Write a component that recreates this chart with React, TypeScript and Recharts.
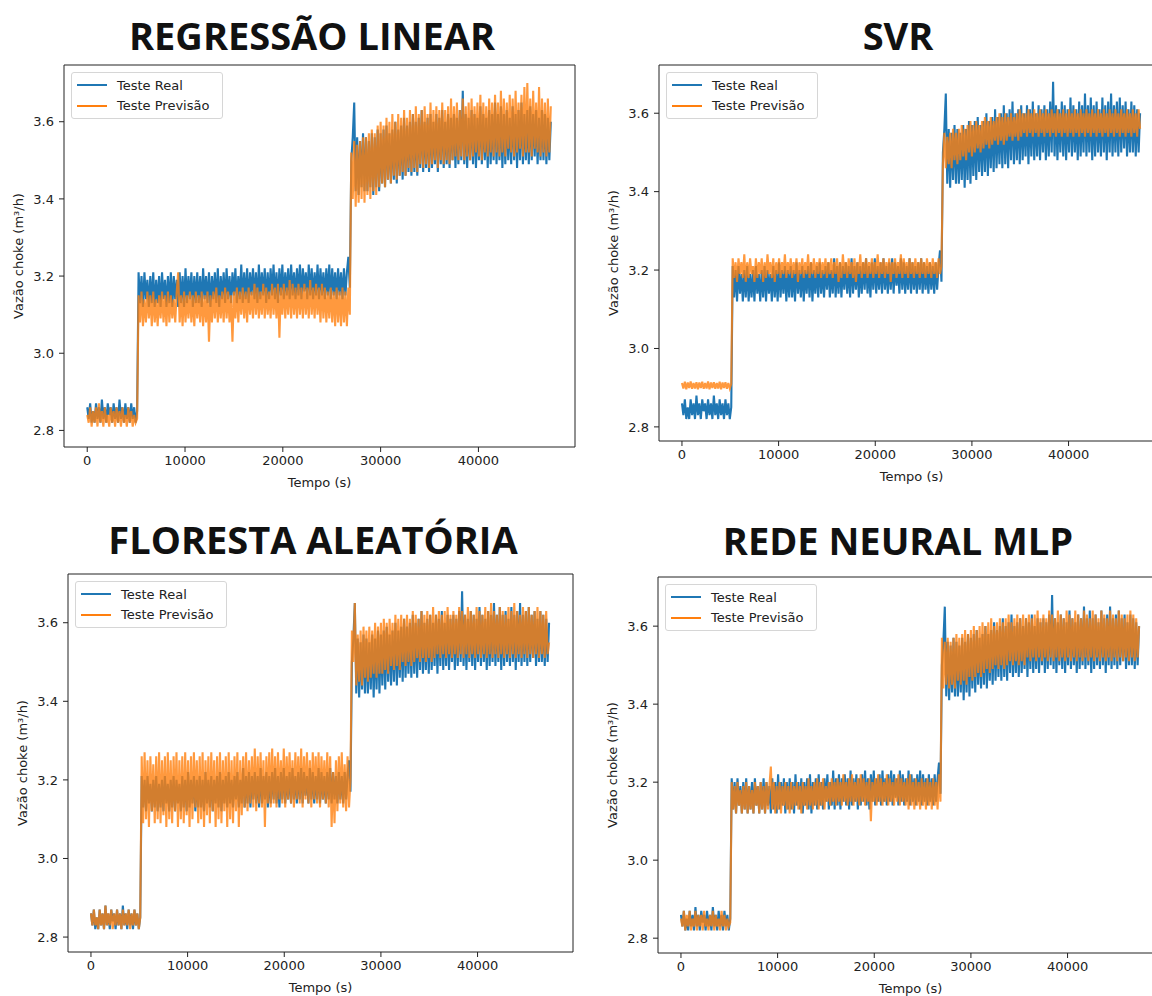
import React from "react";
import { LineChart, Line, XAxis, YAxis, ReferenceArea } from "recharts";

// sampling step of the test series (s)
const STEP_S = 150;

const xTicks = [0, 10000, 20000, 30000, 40000];
const yTicks = [2.8, 3.0, 3.2, 3.4, 3.6];
const titles = ["REGRESSÃO LINEAR", "SVR", "FLORESTA ALEATÓRIA", "REDE NEURAL MLP"];
const seriesNames = ["Teste Real", "Teste Previsão"];

// Teste Real (same in all four panels): A = 0..5100 s, B = 5250..26850 s, C = 27000..47400 s
const realA = [
  2.86, 2.83, 2.87, 2.82, 2.85, 2.82, 2.87, 2.83, 2.86, 2.82,
  2.88, 2.83, 2.86, 2.82, 2.87, 2.84, 2.86, 2.82, 2.87, 2.83,
  2.86, 2.82, 2.88, 2.83, 2.86, 2.82, 2.87, 2.83, 2.86, 2.82,
  2.87, 2.83, 2.86, 2.82, 2.85,
];
const realB = [
  3.21, 3.13, 3.2, 3.12, 3.21, 3.14, 3.19, 3.12, 3.2, 3.13,
  3.21, 3.12, 3.19, 3.13, 3.2, 3.12, 3.21, 3.14, 3.19, 3.12,
  3.2, 3.13, 3.21, 3.12, 3.2, 3.14, 3.19, 3.12, 3.21, 3.13,
  3.2, 3.12, 3.22, 3.13, 3.2, 3.14, 3.21, 3.12, 3.2, 3.13,
  3.21, 3.13, 3.2, 3.12, 3.22, 3.14, 3.2, 3.13, 3.21, 3.12,
  3.2, 3.14, 3.21, 3.13, 3.22, 3.12, 3.2, 3.14, 3.21, 3.13,
  3.22, 3.14, 3.2, 3.13, 3.21, 3.15, 3.22, 3.13, 3.2, 3.14,
  3.23, 3.13, 3.21, 3.14, 3.22, 3.13, 3.21, 3.15, 3.22, 3.14,
  3.21, 3.13, 3.23, 3.14, 3.21, 3.15, 3.22, 3.13, 3.21, 3.14,
  3.22, 3.15, 3.23, 3.14, 3.21, 3.13, 3.22, 3.15, 3.23, 3.14,
  3.21, 3.15, 3.22, 3.14, 3.23, 3.15, 3.21, 3.14, 3.22, 3.15,
  3.23, 3.14, 3.22, 3.16, 3.21, 3.14, 3.23, 3.15, 3.22, 3.14,
  3.21, 3.15, 3.23, 3.14, 3.22, 3.15, 3.21, 3.14, 3.22, 3.15,
  3.23, 3.14, 3.22, 3.15, 3.21, 3.14, 3.22, 3.15, 3.21, 3.14,
  3.22, 3.15, 3.21, 3.25, 3.17,
];
const realC = [
  3.5, 3.56, 3.65, 3.42, 3.56, 3.41, 3.55, 3.43, 3.57, 3.42,
  3.56, 3.42, 3.55, 3.43, 3.57, 3.41, 3.56, 3.43, 3.58, 3.42,
  3.57, 3.44, 3.58, 3.43, 3.59, 3.45, 3.57, 3.44, 3.58, 3.45,
  3.6, 3.44, 3.58, 3.46, 3.59, 3.45, 3.61, 3.46, 3.59, 3.47,
  3.6, 3.46, 3.62, 3.47, 3.6, 3.46, 3.61, 3.48, 3.63, 3.47,
  3.6, 3.48, 3.61, 3.47, 3.62, 3.48, 3.6, 3.49, 3.62, 3.47,
  3.61, 3.49, 3.63, 3.48, 3.6, 3.49, 3.62, 3.48, 3.61, 3.5,
  3.62, 3.48, 3.61, 3.49, 3.63, 3.5, 3.68, 3.49, 3.62, 3.48,
  3.61, 3.5, 3.63, 3.49, 3.62, 3.48, 3.61, 3.5, 3.64, 3.49,
  3.62, 3.5, 3.61, 3.48, 3.63, 3.49, 3.62, 3.5, 3.65, 3.49,
  3.62, 3.5, 3.64, 3.48, 3.62, 3.49, 3.63, 3.5, 3.61, 3.49,
  3.64, 3.5, 3.62, 3.48, 3.63, 3.5, 3.65, 3.49, 3.62, 3.5,
  3.63, 3.49, 3.64, 3.5, 3.62, 3.51, 3.63, 3.49, 3.61, 3.5,
  3.63, 3.5, 3.62, 3.49, 3.61, 3.5, 3.6,
];

// Teste Previsão - Regressão Linear
const lrA = [
  2.84, 2.82, 2.86, 2.81, 2.85, 2.82, 2.86, 2.81, 2.87, 2.82,
  2.85, 2.81, 2.86, 2.82, 2.84, 2.81, 2.86, 2.82, 2.85, 2.81,
  2.86, 2.82, 2.85, 2.81, 2.86, 2.82, 2.84, 2.81, 2.86, 2.82,
  2.85, 2.81, 2.84, 2.82, 2.83,
];
const lrB = [
  3.15, 3.08, 3.16, 3.07, 3.14, 3.08, 3.16, 3.09, 3.15, 3.07,
  3.16, 3.08, 3.14, 3.07, 3.15, 3.09, 3.16, 3.08, 3.15, 3.07,
  3.16, 3.08, 3.15, 3.09, 3.14, 3.08, 3.16, 3.21, 3.08, 3.15,
  3.07, 3.16, 3.08, 3.15, 3.09, 3.16, 3.08, 3.15, 3.07, 3.16,
  3.09, 3.15, 3.08, 3.16, 3.07, 3.15, 3.08, 3.16, 3.03, 3.15,
  3.08, 3.16, 3.09, 3.17, 3.08, 3.15, 3.09, 3.16, 3.08, 3.17,
  3.09, 3.16, 3.08, 3.15, 3.03, 3.16, 3.09, 3.17, 3.08, 3.16,
  3.1, 3.17, 3.09, 3.16, 3.08, 3.17, 3.1, 3.16, 3.09, 3.18,
  3.1, 3.17, 3.09, 3.16, 3.1, 3.18, 3.09, 3.17, 3.1, 3.16,
  3.09, 3.18, 3.1, 3.17, 3.09, 3.18, 3.04, 3.17, 3.1, 3.18,
  3.09, 3.17, 3.1, 3.19, 3.09, 3.18, 3.1, 3.17, 3.09, 3.18,
  3.1, 3.17, 3.09, 3.18, 3.1, 3.17, 3.09, 3.19, 3.1, 3.17,
  3.09, 3.18, 3.1, 3.17, 3.08, 3.18, 3.09, 3.17, 3.08, 3.16,
  3.09, 3.17, 3.08, 3.16, 3.07, 3.17, 3.08, 3.16, 3.07, 3.17,
  3.08, 3.16, 3.07, 3.17, 3.1,
];
const lrC = [
  3.52, 3.4, 3.55, 3.38, 3.54, 3.39, 3.55, 3.4, 3.56, 3.39,
  3.56, 3.41, 3.57, 3.4, 3.58, 3.42, 3.57, 3.41, 3.59, 3.43,
  3.6, 3.44, 3.59, 3.43, 3.61, 3.45, 3.6, 3.44, 3.62, 3.46,
  3.6, 3.45, 3.62, 3.46, 3.61, 3.47, 3.63, 3.46, 3.61, 3.48,
  3.63, 3.47, 3.62, 3.48, 3.64, 3.47, 3.62, 3.49, 3.63, 3.48,
  3.64, 3.49, 3.62, 3.48, 3.65, 3.49, 3.63, 3.5, 3.64, 3.48,
  3.63, 3.5, 3.65, 3.49, 3.63, 3.5, 3.64, 3.49, 3.66, 3.5,
  3.64, 3.51, 3.65, 3.5, 3.63, 3.51, 3.66, 3.5, 3.64, 3.51,
  3.65, 3.5, 3.66, 3.51, 3.64, 3.52, 3.65, 3.51, 3.67, 3.5,
  3.65, 3.52, 3.64, 3.51, 3.66, 3.52, 3.65, 3.51, 3.67, 3.52,
  3.65, 3.51, 3.68, 3.52, 3.66, 3.51, 3.65, 3.53, 3.67, 3.52,
  3.66, 3.51, 3.68, 3.52, 3.65, 3.53, 3.67, 3.51, 3.69, 3.52,
  3.7, 3.52, 3.66, 3.51, 3.68, 3.53, 3.65, 3.52, 3.69, 3.51,
  3.66, 3.52, 3.65, 3.51, 3.66, 3.52, 3.64,
];

// Teste Previsão - SVR
const svrA = [
  2.912, 2.898, 2.915, 2.896, 2.913, 2.899, 2.916, 2.897, 2.912, 2.898,
  2.914, 2.896, 2.913, 2.899, 2.915, 2.897, 2.912, 2.898, 2.916, 2.896,
  2.913, 2.899, 2.914, 2.897, 2.912, 2.898, 2.915, 2.896, 2.913, 2.899,
  2.914, 2.897, 2.912, 2.898, 2.91,
];
const svrB = [
  3.23, 3.18, 3.22, 3.17, 3.23, 3.19, 3.22, 3.18, 3.24, 3.17,
  3.22, 3.18, 3.23, 3.19, 3.21, 3.17, 3.23, 3.18, 3.22, 3.19,
  3.23, 3.17, 3.22, 3.18, 3.24, 3.19, 3.22, 3.18, 3.23, 3.17,
  3.22, 3.19, 3.23, 3.18, 3.22, 3.19, 3.24, 3.18, 3.22, 3.19,
  3.23, 3.18, 3.22, 3.19, 3.23, 3.17, 3.22, 3.19, 3.23, 3.18,
  3.22, 3.19, 3.24, 3.18, 3.22, 3.19, 3.23, 3.18, 3.22, 3.19,
  3.23, 3.18, 3.22, 3.19, 3.23, 3.18, 3.22, 3.19, 3.23, 3.18,
  3.22, 3.19, 3.23, 3.17, 3.22, 3.18, 3.24, 3.19, 3.22, 3.18,
  3.23, 3.19, 3.22, 3.18, 3.23, 3.17, 3.22, 3.19, 3.24, 3.18,
  3.22, 3.19, 3.23, 3.18, 3.22, 3.19, 3.23, 3.18, 3.22, 3.19,
  3.24, 3.18, 3.22, 3.19, 3.23, 3.18, 3.22, 3.19, 3.23, 3.17,
  3.22, 3.19, 3.23, 3.18, 3.22, 3.19, 3.24, 3.18, 3.23, 3.19,
  3.22, 3.18, 3.23, 3.19, 3.22, 3.18, 3.23, 3.19, 3.22, 3.18,
  3.23, 3.19, 3.22, 3.18, 3.23, 3.19, 3.22, 3.18, 3.23, 3.19,
  3.22, 3.18, 3.23, 3.19, 3.21,
];
const svrC = [
  3.47, 3.55, 3.46, 3.54, 3.47, 3.55, 3.46, 3.56, 3.48, 3.55,
  3.47, 3.56, 3.48, 3.57, 3.49, 3.56, 3.48, 3.57, 3.5, 3.58,
  3.49, 3.57, 3.5, 3.58, 3.51, 3.57, 3.5, 3.58, 3.51, 3.59,
  3.52, 3.58, 3.51, 3.59, 3.52, 3.58, 3.53, 3.59, 3.52, 3.6,
  3.53, 3.59, 3.52, 3.6, 3.53, 3.59, 3.54, 3.6, 3.53, 3.59,
  3.54, 3.6, 3.53, 3.61, 3.54, 3.6, 3.55, 3.6, 3.54, 3.61,
  3.55, 3.6, 3.54, 3.61, 3.55, 3.6, 3.54, 3.61, 3.55, 3.6,
  3.54, 3.61, 3.55, 3.6, 3.54, 3.61, 3.55, 3.6, 3.54, 3.61,
  3.55, 3.6, 3.54, 3.61, 3.55, 3.6, 3.54, 3.61, 3.55, 3.6,
  3.54, 3.61, 3.55, 3.6, 3.54, 3.61, 3.55, 3.6, 3.54, 3.61,
  3.55, 3.6, 3.54, 3.61, 3.55, 3.6, 3.54, 3.61, 3.55, 3.6,
  3.54, 3.61, 3.55, 3.6, 3.54, 3.61, 3.55, 3.6, 3.54, 3.61,
  3.55, 3.6, 3.54, 3.61, 3.55, 3.6, 3.54, 3.61, 3.55, 3.6,
  3.54, 3.61, 3.55, 3.6, 3.54, 3.61, 3.56,
];

// Teste Previsão - Floresta Aleatória
const rfA = [
  2.86, 2.83, 2.87, 2.83, 2.85, 2.82, 2.87, 2.83, 2.86, 2.82,
  2.88, 2.83, 2.86, 2.83, 2.87, 2.82, 2.86, 2.83, 2.87, 2.83,
  2.86, 2.82, 2.87, 2.83, 2.86, 2.83, 2.87, 2.82, 2.86, 2.83,
  2.87, 2.83, 2.86, 2.82, 2.85,
];
const rfB = [
  3.26, 3.09, 3.27, 3.1, 3.25, 3.08, 3.26, 3.12, 3.24, 3.09,
  3.26, 3.1, 3.27, 3.09, 3.25, 3.11, 3.26, 3.08, 3.27, 3.1,
  3.25, 3.09, 3.26, 3.12, 3.27, 3.08, 3.25, 3.1, 3.26, 3.09,
  3.27, 3.11, 3.25, 3.08, 3.26, 3.1, 3.27, 3.13, 3.25, 3.09,
  3.26, 3.1, 3.27, 3.08, 3.25, 3.11, 3.26, 3.09, 3.27, 3.12,
  3.25, 3.08, 3.26, 3.1, 3.27, 3.09, 3.25, 3.12, 3.26, 3.08,
  3.27, 3.1, 3.25, 3.09, 3.26, 3.12, 3.27, 3.08, 3.25, 3.11,
  3.26, 3.13, 3.27, 3.12, 3.25, 3.14, 3.26, 3.13, 3.28, 3.12,
  3.26, 3.14, 3.27, 3.13, 3.25, 3.08, 3.26, 3.14, 3.27, 3.13,
  3.28, 3.14, 3.26, 3.13, 3.27, 3.15, 3.25, 3.14, 3.28, 3.13,
  3.26, 3.15, 3.27, 3.14, 3.25, 3.13, 3.27, 3.15, 3.26, 3.14,
  3.28, 3.13, 3.26, 3.15, 3.27, 3.14, 3.25, 3.13, 3.27, 3.15,
  3.26, 3.14, 3.27, 3.13, 3.26, 3.15, 3.25, 3.14, 3.27, 3.13,
  3.26, 3.08, 3.22, 3.09, 3.25, 3.12, 3.26, 3.14, 3.27, 3.13,
  3.24, 3.12, 3.26, 3.13, 3.2,
];
const rfC = [
  3.58, 3.5, 3.65, 3.44, 3.57, 3.45, 3.58, 3.44, 3.59, 3.46,
  3.58, 3.45, 3.59, 3.46, 3.58, 3.47, 3.6, 3.46, 3.59, 3.47,
  3.6, 3.47, 3.61, 3.48, 3.6, 3.47, 3.61, 3.49, 3.6, 3.48,
  3.62, 3.49, 3.61, 3.48, 3.62, 3.5, 3.61, 3.49, 3.62, 3.5,
  3.61, 3.49, 3.63, 3.5, 3.62, 3.51, 3.61, 3.5, 3.63, 3.51,
  3.62, 3.5, 3.63, 3.51, 3.62, 3.5, 3.64, 3.51, 3.62, 3.52,
  3.63, 3.51, 3.62, 3.52, 3.63, 3.51, 3.64, 3.52, 3.62, 3.51,
  3.63, 3.52, 3.62, 3.51, 3.64, 3.52, 3.63, 3.51, 3.62, 3.52,
  3.64, 3.51, 3.63, 3.52, 3.62, 3.51, 3.64, 3.52, 3.63, 3.51,
  3.62, 3.52, 3.64, 3.51, 3.63, 3.52, 3.65, 3.51, 3.63, 3.52,
  3.62, 3.51, 3.64, 3.52, 3.63, 3.51, 3.62, 3.52, 3.64, 3.51,
  3.63, 3.52, 3.65, 3.51, 3.63, 3.52, 3.62, 3.51, 3.64, 3.52,
  3.63, 3.51, 3.64, 3.52, 3.62, 3.51, 3.63, 3.52, 3.64, 3.51,
  3.63, 3.52, 3.62, 3.51, 3.63, 3.52, 3.55,
];

// Teste Previsão - Rede Neural MLP
const mlpA = [
  2.85, 2.83, 2.87, 2.82, 2.86, 2.83, 2.87, 2.82, 2.85, 2.83,
  2.87, 2.82, 2.86, 2.83, 2.86, 2.82, 2.87, 2.83, 2.85, 2.82,
  2.86, 2.83, 2.87, 2.82, 2.86, 2.83, 2.85, 2.82, 2.87, 2.83,
  2.86, 2.82, 2.85, 2.83, 2.84,
];
const mlpB = [
  3.2, 3.13, 3.19, 3.12, 3.2, 3.14, 3.18, 3.12, 3.19, 3.13,
  3.2, 3.12, 3.19, 3.13, 3.18, 3.12, 3.2, 3.14, 3.19, 3.12,
  3.2, 3.13, 3.19, 3.12, 3.2, 3.13, 3.19, 3.24, 3.13, 3.2,
  3.12, 3.19, 3.13, 3.2, 3.12, 3.19, 3.14, 3.2, 3.13, 3.19,
  3.12, 3.2, 3.13, 3.19, 3.14, 3.2, 3.13, 3.19, 3.12, 3.2,
  3.14, 3.19, 3.13, 3.21, 3.14, 3.19, 3.13, 3.2, 3.14, 3.21,
  3.13, 3.2, 3.14, 3.21, 3.13, 3.19, 3.15, 3.2, 3.14, 3.21,
  3.15, 3.2, 3.14, 3.21, 3.15, 3.2, 3.14, 3.22, 3.15, 3.2,
  3.14, 3.21, 3.15, 3.22, 3.14, 3.2, 3.15, 3.21, 3.14, 3.22,
  3.15, 3.21, 3.14, 3.2, 3.15, 3.21, 3.1, 3.2, 3.15, 3.21,
  3.14, 3.22, 3.15, 3.21, 3.14, 3.2, 3.15, 3.22, 3.14, 3.21,
  3.15, 3.2, 3.14, 3.21, 3.15, 3.22, 3.14, 3.21, 3.15, 3.2,
  3.14, 3.21, 3.13, 3.22, 3.14, 3.2, 3.13, 3.21, 3.14, 3.2,
  3.13, 3.21, 3.14, 3.2, 3.13, 3.21, 3.14, 3.2, 3.13, 3.21,
  3.14, 3.2, 3.13, 3.22, 3.15,
];
const mlpC = [
  3.57, 3.44, 3.56, 3.45, 3.57, 3.44, 3.56, 3.45, 3.57, 3.44,
  3.58, 3.46, 3.57, 3.45, 3.58, 3.46, 3.59, 3.45, 3.58, 3.47,
  3.59, 3.46, 3.6, 3.47, 3.59, 3.48, 3.6, 3.47, 3.61, 3.48,
  3.6, 3.49, 3.61, 3.48, 3.62, 3.49, 3.6, 3.5, 3.61, 3.49,
  3.62, 3.5, 3.61, 3.49, 3.62, 3.5, 3.63, 3.51, 3.61, 3.5,
  3.62, 3.51, 3.63, 3.5, 3.62, 3.51, 3.63, 3.5, 3.62, 3.52,
  3.63, 3.51, 3.62, 3.52, 3.63, 3.51, 3.64, 3.52, 3.62, 3.51,
  3.63, 3.52, 3.62, 3.51, 3.64, 3.52, 3.63, 3.51, 3.62, 3.52,
  3.64, 3.51, 3.63, 3.52, 3.62, 3.51, 3.64, 3.52, 3.63, 3.51,
  3.62, 3.52, 3.64, 3.51, 3.63, 3.52, 3.62, 3.51, 3.64, 3.52,
  3.63, 3.51, 3.62, 3.52, 3.64, 3.51, 3.63, 3.52, 3.62, 3.51,
  3.64, 3.52, 3.63, 3.51, 3.62, 3.52, 3.64, 3.51, 3.63, 3.52,
  3.62, 3.51, 3.64, 3.52, 3.63, 3.51, 3.62, 3.52, 3.63, 3.51,
  3.64, 3.52, 3.63, 3.51, 3.62, 3.52, 3.6,
];

const real = [...realA, ...realB, ...realC];
const predLR = [...lrA, ...lrB, ...lrC];
const predSVR = [...svrA, ...svrB, ...svrC];
const predRF = [...rfA, ...rfB, ...rfC];
const predMLP = [...mlpA, ...mlpB, ...mlpC];

const BLUE = "#1f77b4";
const ORANGE = "#ff7f0e";
const INK = "#222";
const TICK_FONT = "DejaVu Sans, sans-serif";
const X_DOMAIN: [number, number] = [-2375, 49875];
const Y_AXIS_W = 64;
const X_AXIS_H = 45;
const SERIES_W = 2.1;

const panels = [
  { title: titles[0], pred: predLR, left: 64, top: 65, w: 511, h: 382, yDomain: [2.757, 3.747], titleX: 312, titleY: 35 },
  { title: titles[1], pred: predSVR, left: 659, top: 65, w: 505, h: 376, yDomain: [2.764, 3.723], titleX: 898, titleY: 35 },
  { title: titles[2], pred: predRF, left: 68, top: 574, w: 505, h: 378, yDomain: [2.762, 3.724], titleX: 313, titleY: 539 },
  { title: titles[3], pred: predMLP, left: 658, top: 577, w: 505, h: 376, yDomain: [2.762, 3.726], titleX: 898, titleY: 540 },
];

function LegendBox({ x, y }: { x: number; y: number }) {
  const colors = [BLUE, ORANGE];
  return (
    <div
      style={{
        position: "absolute",
        left: x,
        top: y,
        width: 150,
        height: 45,
        border: "1px solid #d6d6d6",
        borderRadius: 3,
        background: "rgba(255,255,255,0.8)",
        fontFamily: TICK_FONT,
        fontSize: 13,
        color: INK,
      }}
    >
      {seriesNames.map((name, i) => (
        <div key={name} style={{ position: "absolute", left: 5, top: 3 + i * 20.5, height: 18, display: "flex", alignItems: "center" }}>
          <span style={{ display: "inline-block", width: 30, height: 2, background: colors[i] }} />
          <span style={{ marginLeft: 10, whiteSpace: "nowrap" }}>{name}</span>
        </div>
      ))}
    </div>
  );
}

function Panel({ p }: { p: (typeof panels)[number] }) {
  const data = real.map((v, i) => ({ t: i * STEP_S, real: v, pred: p.pred[i] }));
  const chartLeft = p.left - Y_AXIS_W;
  return (
    <>
      <div
        style={{
          position: "absolute",
          left: p.titleX - 300,
          width: 600,
          top: p.titleY - 22,
          height: 44,
          lineHeight: "44px",
          textAlign: "center",
          fontFamily: "Open Sans, sans-serif",
          fontWeight: 700,
          fontSize: 38,
          color: "#111",
        }}
      >
        {p.title}
      </div>
      <div style={{ position: "absolute", left: chartLeft, top: p.top - 2 }}>
        <LineChart
          width={Y_AXIS_W + p.w + 2}
          height={p.h + X_AXIS_H + 2}
          data={data}
          margin={{ top: 2, right: 2, bottom: 0, left: 0 }}
        >
          <XAxis
            dataKey="t"
            type="number"
            domain={X_DOMAIN}
            ticks={xTicks}
            allowDataOverflow
            height={X_AXIS_H}
            axisLine={false}
            tickLine={{ stroke: INK }}
            tickSize={5}
            tickMargin={4}
            tick={{ fill: INK, fontSize: 13, fontFamily: TICK_FONT }}
            label={{ value: "Tempo (s)", position: "insideBottom", offset: 5, fill: INK, fontSize: 13, fontFamily: TICK_FONT }}
          />
          <YAxis
            type="number"
            domain={p.yDomain}
            ticks={yTicks}
            allowDataOverflow
            width={Y_AXIS_W}
            axisLine={false}
            tickLine={{ stroke: INK }}
            tickSize={5}
            tickMargin={5}
            tickFormatter={(v: number) => v.toFixed(1)}
            tick={{ fill: INK, fontSize: 13, fontFamily: TICK_FONT }}
          />
          <Line dataKey="real" name={seriesNames[0]} stroke={BLUE} strokeWidth={SERIES_W} dot={false} isAnimationActive={false} />
          <Line dataKey="pred" name={seriesNames[1]} stroke={ORANGE} strokeWidth={SERIES_W} strokeOpacity={0.8} dot={false} isAnimationActive={false} />
          <ReferenceArea
            x1={X_DOMAIN[0]}
            x2={X_DOMAIN[1]}
            y1={p.yDomain[0]}
            y2={p.yDomain[1]}
            fill="none"
            stroke={INK}
            strokeWidth={1}
            ifOverflow="visible"
          />
        </LineChart>
      </div>
      <div
        style={{
          position: "absolute",
          left: p.left - 46,
          top: p.top + p.h / 2,
          transform: "translate(-50%, -50%) rotate(-90deg)",
          whiteSpace: "nowrap",
          fontFamily: TICK_FONT,
          fontSize: 13,
          color: INK,
        }}
      >
        Vazão choke (m³/h)
      </div>
      <LegendBox x={p.left + 7} y={p.top + 7} />
    </>
  );
}

export default function App() {
  return (
    <div
      style={{
        position: "absolute",
        left: 0,
        top: 0,
        width: 1152,
        height: 996,
        overflow: "hidden",
        background: "#fff",
      }}
    >
      {panels.map((p) => (
        <Panel key={p.title} p={p} />
      ))}
    </div>
  );
}
